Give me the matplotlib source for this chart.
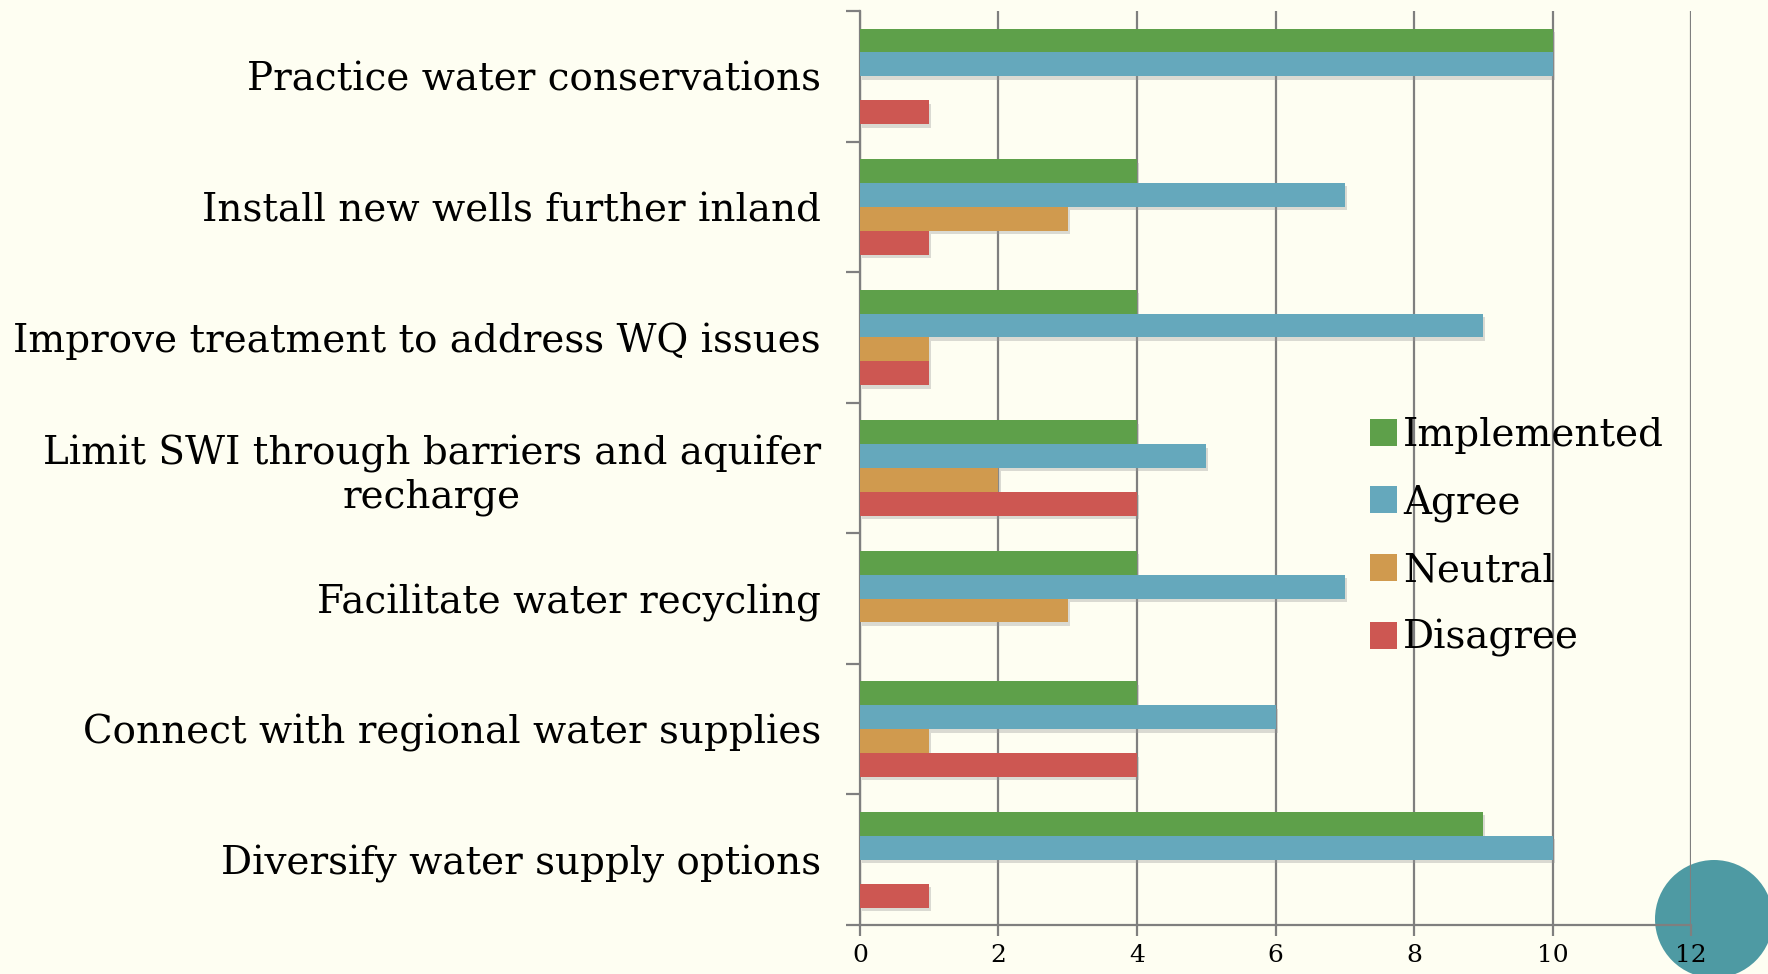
import numpy as np
import matplotlib
matplotlib.use("Agg")
import matplotlib.pyplot as plt
import matplotlib.patheffects as pe
from matplotlib.patches import Ellipse, Patch

# Data (top to bottom as in the chart)
categories = [
    "Practice water conservations",
    "Install new wells further inland",
    "Improve treatment to address WQ issues",
    "Limit SWI through barriers and aquifer\nrecharge",
    "Facilitate water recycling",
    "Connect with regional water supplies",
    "Diversify water supply options",
]
implemented = [10, 4, 4, 4, 4, 4, 9]
agree = [10, 7, 9, 5, 7, 6, 10]
neutral = [0, 3, 1, 2, 3, 1, 0]
disagree = [1, 1, 1, 4, 0, 4, 1]

series_names = ["Implemented", "Agree", "Neutral", "Disagree"]
series_vals = [implemented, agree, neutral, disagree]
colors = ["#5EA04A", "#65A8BC", "#D09A4E", "#CD5752"]

bg = "#FEFEF2"
grey = "#7F7F7F"
serif = ["Century Schoolbook", "DejaVu Serif"]
plt.rcParams["font.family"] = serif

fig = plt.figure(figsize=(17.68, 9.74), dpi=100, facecolor=bg)
ax = fig.add_axes([0.4864, 0.0503, 0.9565 - 0.4864, 0.9887 - 0.0503])
ax.set_facecolor("none")

# decorative circle bottom right
circ = Ellipse((1714 / 1768, 1 - 919 / 974), 2 * 59 / 1768, 2 * 59 / 974,
               transform=fig.transFigure, facecolor="#4E9AA3", edgecolor="none", zorder=-5)
fig.patches.append(circ)

n = len(categories)
y = np.arange(n)
bar_h = 0.183
shadow = [pe.SimplePatchShadow(offset=(1.5, -2.5), shadow_rgbFace="#999999", alpha=0.35), pe.Normal()]
for i, (name, vals, c) in enumerate(zip(series_names, series_vals, colors)):
    offs = (i - 1.5) * bar_h
    bars = ax.barh(y + offs, vals, height=bar_h, color=c, label=name, zorder=3)
    for b in bars:
        b.set_path_effects(shadow)

ax.set_ylim(n - 0.5, -0.5)
ax.set_xlim(0, 12)
ax.set_xticks(np.arange(0, 13, 2))
ax.xaxis.grid(True, color=grey, linewidth=1.6, zorder=0)
ax.set_axisbelow(True)

ax.set_yticks(y)
ax.set_yticklabels(categories, fontsize=28, multialignment="center")
ax.set_yticks(np.arange(-0.5, n, 1), minor=True)
ax.tick_params(axis="y", which="major", length=0, pad=28)
ax.tick_params(axis="y", which="minor", length=10, width=1.6, color=grey)
ax.tick_params(axis="x", which="major", length=8, width=1.6, color=grey, labelsize=18, pad=6)

for s in ["top", "right"]:
    ax.spines[s].set_visible(False)
for s in ["left", "bottom"]:
    ax.spines[s].set_color(grey)
    ax.spines[s].set_linewidth(1.6)

handles = [Patch(facecolor=c, edgecolor="none") for c in colors]
leg = ax.legend(handles, series_names, loc="upper left", bbox_to_anchor=(0.595, 0.573),
                frameon=False, fontsize=28, handlelength=0.7, handleheight=0.7,
                handletextpad=0.15, labelspacing=0.78, borderaxespad=0)

fig.savefig("out.png", dpi=100, facecolor=bg)
